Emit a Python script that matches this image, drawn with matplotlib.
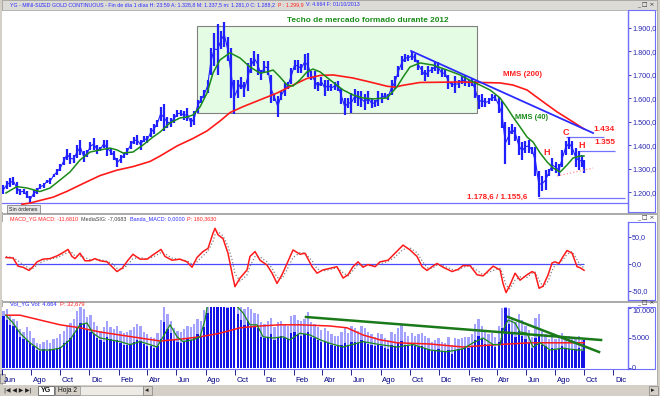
import numpy as np
import pandas as pd
import matplotlib
matplotlib.use("Agg")
import matplotlib.pyplot as plt
from matplotlib.patches import Rectangle
import matplotlib.transforms as mtransforms

plt.rcParams['font.family'] = ['Liberation Sans', 'DejaVu Sans']

# ---- datos: oro mini (YG), semanas desde jun-2010 hasta 01/10/2013 ----
inicio = pd.Timestamp('2010-06-01')
fechas = list(pd.date_range('2010-06-04', '2013-09-27', freq='W-FRI')) + [pd.Timestamp('2013-10-01')]

minimos = [
    # 2010
    1195, 1215, 1225, 1230, 1195, 1190, 1195, 1175, 1157, 1180, 1195, 1215, 1220, 1240, 1238, 1265,
    1275, 1290, 1315, 1340, 1320, 1325, 1345, 1360, 1330, 1350, 1380, 1380, 1365, 1375, 1390,
    # 2011
    1355, 1360, 1340, 1310, 1325, 1345, 1360, 1385, 1405, 1400, 1380, 1415, 1410, 1435, 1450, 1480, 1505,
    1460, 1475, 1480, 1495, 1520, 1525, 1510, 1505, 1478, 1485, 1540, 1580, 1600, 1625, 1700, 1740, 1700,
    1810, 1820, 1760, 1600, 1535, 1600, 1640, 1605, 1630, 1710, 1740, 1700, 1680, 1710, 1700, 1580, 1590, 1523,
    # 2012
    1595, 1610, 1640, 1660, 1720, 1710, 1710, 1720, 1690, 1680, 1640, 1630, 1655, 1610, 1630, 1630, 1635,
    1630, 1575, 1530, 1560, 1540, 1580, 1570, 1565, 1550, 1575, 1560, 1565, 1570, 1580, 1600, 1595, 1615, 1640,
    1690, 1720, 1755, 1760, 1765, 1755, 1720, 1700, 1675, 1690, 1710, 1715, 1705, 1690, 1690, 1640, 1650,
    # 2013
    1625, 1645, 1660, 1655, 1650, 1655, 1600, 1555, 1565, 1565, 1575, 1590, 1590, 1540, 1475, 1321, 1400,
    1450, 1420, 1360, 1340, 1370, 1370, 1365, 1270, 1180, 1205, 1210, 1270, 1290, 1285, 1270, 1310, 1360, 1385,
    1360, 1310, 1295, 1310, 1281]
maximos = [
    # 2010
    1230, 1250, 1262, 1265, 1245, 1215, 1215, 1205, 1185, 1210, 1218, 1235, 1240, 1255, 1260, 1280,
    1300, 1320, 1350, 1385, 1370, 1360, 1400, 1424, 1375, 1380, 1415, 1431, 1400, 1395, 1425,
    # 2011
    1422, 1390, 1375, 1345, 1360, 1370, 1390, 1420, 1438, 1445, 1425, 1440, 1440, 1475, 1490, 1510, 1565,
    1577, 1520, 1515, 1535, 1550, 1550, 1545, 1560, 1515, 1545, 1595, 1610, 1635, 1680, 1815, 1880, 1915,
    1885, 1925, 1860, 1815, 1680, 1680, 1690, 1670, 1750, 1770, 1800, 1790, 1720, 1760, 1760, 1700, 1620, 1610,
    # 2012
    1630, 1665, 1670, 1730, 1765, 1765, 1745, 1790, 1792, 1715, 1715, 1670, 1690, 1680, 1680, 1660, 1670,
    1675, 1645, 1600, 1600, 1625, 1640, 1630, 1630, 1620, 1630, 1600, 1595, 1630, 1625, 1625, 1620, 1680, 1695,
    1740, 1780, 1790, 1785, 1798, 1790, 1765, 1740, 1720, 1740, 1735, 1755, 1755, 1725, 1725, 1700, 1670,
    # 2013
    1695, 1680, 1695, 1695, 1680, 1685, 1675, 1615, 1620, 1600, 1600, 1620, 1615, 1605, 1590, 1500, 1480,
    1490, 1480, 1440, 1415, 1420, 1425, 1395, 1395, 1290, 1270, 1295, 1300, 1345, 1330, 1320, 1380, 1420, 1434,
    1420, 1390, 1375, 1360, 1338]

vol_semana = [
    8600, 8000, 7200, 7000, 6500, 5200, 4800, 4600, 4200, 3600, 3000, 2800, 3100, 2900, 3200, 3000,
    3300, 3500, 4100, 4500, 5000, 5800, 6800, 7500, 7400, 6500, 6000, 5600, 5000, 4600, 4400,
    5200, 4800, 4500, 4700, 4200, 3900, 3800, 4000, 4300, 4600, 4500, 4000, 3700, 3600, 3400, 3600, 4800,
    7600, 6500, 5800, 4600, 4400, 4200, 4500, 4800, 4600, 5000, 5600, 5400, 6800, 9200, 12500, 12000, 12500,
    10500, 11500, 10000, 12000, 11000, 9000, 8000, 7200, 7800, 7000, 6800, 6600, 5200, 5000, 5200, 5600, 4600, 5000,
    5300, 5000, 4800, 5800, 6000, 5600, 5400, 5600, 6000, 5200, 5000, 4600, 4300, 4400, 4200, 3800, 3700,
    3600, 3900, 4200, 3800, 4300, 4400, 4200, 4600, 4300, 4000, 3800, 3600, 3900, 3700, 3300, 3100, 3800, 3600,
    4200, 4500, 3900, 3600, 3900, 3600, 3500, 3700, 3400, 3200, 2900, 2800, 3100, 2800, 2700, 3000, 2400,
    3000, 3100, 3200, 3300, 3400, 3600, 4600, 5400, 4800, 4000, 3700, 3800, 3500, 4400, 6600, 10000, 7400,
    6000, 5200, 6200, 5400, 4800, 4200, 3400, 5000, 5600, 3800, 3600, 3000, 3400, 3000, 3100, 3600, 3300, 3200,
    3000, 3100, 3300, 2900, 4664]
vol_pico = [
    9500, 9800, 8800, 8200, 7800, 6500, 6000, 6800, 6200, 5000, 4200, 4000, 4400, 4600, 4200, 4800,
    5000, 5600, 6200, 7000, 7500, 8200, 9500, 10500, 9800, 8500, 8800, 7600, 7000, 6200, 6800,
    7800, 6900, 6500, 7000, 6200, 5800, 6000, 6400, 6800, 7400, 7000, 6000, 5600, 5200, 5000, 5800, 8000,
    10500, 9000, 7800, 6600, 6200, 6000, 6500, 7000, 6800, 7400, 8200, 7800, 9600, 12000, 14000, 14000, 14000,
    13000, 14000, 13000, 14000, 14000, 12000, 10500, 9800, 10500, 9800, 9200, 9000, 7600, 7400, 7800, 8400, 6800, 7600,
    7800, 7200, 7000, 8600, 8800, 8000, 7800, 8200, 9400, 7600, 7400, 6800, 6400, 6600, 6200, 5600, 5400,
    5400, 6000, 6800, 5800, 7000, 6600, 6200, 7000, 6600, 6000, 5600, 5200, 5800, 5600, 5000, 4600, 6000, 5600,
    6600, 7200, 6000, 5400, 5800, 5400, 5600, 5800, 5400, 5000, 4400, 4600, 5000, 4400, 4200, 5200, 3800,
    5000, 4800, 5000, 5200, 5200, 5600, 7400, 8200, 7000, 6000, 5600, 5800, 5200, 7000, 10000, 13000, 10000,
    8400, 7600, 9000, 8000, 7000, 6400, 5200, 8400, 9000, 6200, 5600, 4800, 5400, 4800, 5000, 5800, 5200, 5400,
    4800, 5000, 5400, 4600, 4664]

# medias moviles del precio (mes desde jun-2010, valor)
mms40_mes = [0.27, 1.03, 1.72, 2.61, 3.30, 3.99, 4.67, 5.36, 6.05, 6.74, 7.42, 7.90, 8.32, 9.00, 9.69,
             10.38, 10.86, 11.55, 12.23, 12.71, 13.13, 13.61, 14.09, 14.50, 14.98, 15.67, 16.36, 17.04,
             17.73, 18.21, 18.63, 19.11, 19.59, 20.00, 20.48, 20.96, 21.37, 21.86, 22.54, 23.44, 24.12,
             24.81, 25.50, 26.46, 27.15, 27.56, 28.04, 28.73, 29.62, 30.58, 31.48, 32.37, 32.85, 33.54,
             34.23, 34.71, 35.12, 35.60, 36.08, 36.49, 36.98, 37.46, 37.88, 38.36, 38.83, 39.25, 39.73, 40.0]
mms40 = [1198, 1225, 1219, 1204, 1219, 1253, 1287, 1338, 1372, 1381, 1389, 1381, 1368, 1372, 1402,
         1436, 1457, 1496, 1517, 1521, 1530, 1564, 1623, 1708, 1764, 1794, 1772, 1734,
         1708, 1713, 1721, 1691, 1657, 1653, 1679, 1713, 1725, 1713, 1679, 1636, 1615,
         1602, 1598, 1602, 1650, 1691, 1734, 1751, 1742, 1721, 1700, 1670, 1657, 1636,
         1602, 1560, 1521, 1479, 1436, 1415, 1368, 1330, 1304, 1287, 1317, 1347, 1355, 1355]
mms200_mes = [1.37, 1.92, 2.61, 3.51, 4.47, 5.57, 6.74, 7.90, 9.00, 10.17, 10.86, 12.03, 13.13, 14.09,
              15.00, 15.67, 16.56, 17.73, 18.90, 20.00, 20.96, 21.86, 22.75, 24.12, 25.29, 26.46, 27.01,
              27.56, 28.73, 31.48, 34.23, 35.12, 36.08, 37.18, 38.14, 39.04, 40.0]
mms200 = [1150, 1155, 1166, 1180, 1205, 1238, 1272, 1295, 1310, 1332, 1355, 1398, 1430, 1462,
          1505, 1540, 1565, 1594, 1623, 1657, 1685, 1698, 1700, 1687, 1670, 1652, 1648,
          1656, 1668, 1670, 1666, 1657, 1636, 1586, 1543, 1508, 1470]

# MACD y su media (senal)
macd_mes = [0.27, 0.76, 1.10, 1.44, 1.86, 2.13, 2.41, 2.82, 3.30, 3.78,
            4.12, 4.54, 4.81, 5.02, 5.36, 5.70, 6.05, 6.39, 6.74, 7.22,
            7.56, 7.90, 8.25, 8.66, 9.00, 9.48, 9.97, 10.38, 10.93, 11.20,
            11.68, 12.23, 12.71, 13.06, 13.40, 13.81, 14.16, 14.50, 14.64, 14.85,
            15.19, 15.53, 15.81, 16.01, 16.36, 16.84, 17.04, 17.39, 17.73, 18.21,
            18.56, 18.90, 19.24, 19.59, 20.00, 20.48, 20.82, 21.31, 21.65, 22.06,
            22.54, 23.02, 23.44, 23.78, 24.12, 24.47, 24.81, 25.15, 25.64, 25.98,
            26.53, 27.01, 27.56, 28.04, 28.52, 28.87, 29.21, 29.55, 29.90, 30.31,
            30.93, 31.34, 31.68, 32.16, 32.65, 33.06, 33.75, 34.23, 34.43, 34.64,
            34.91, 35.26, 35.60, 36.08, 36.43, 36.63, 36.91, 37.18, 37.53, 37.80,
            38.01, 38.28, 38.56, 38.83, 39.18, 39.52, 39.73, 40.00]
macd = [12, 11, -4, -6, -12, -5, 4, 9, 10, 15,
        20, 27, 14, 10, 20, 6, 6, 10, 6, 4,
        -5, -14, -8, 7, 18, 9, 9, 17, 27, 14,
        7, 9, 4, -6, 12, 23, 29, 57, 66, 54,
        47, 20, -17, -42, -26, -11, 14, 23, 7, -2,
        -17, -36, -20, 1, 26, 18, 20, -5, -17, -11,
        -8, -5, -26, -20, -5, 4, -6, -1, -5, 4,
        7, 20, 35, 26, 14, -5, -12, -5, 1, -6,
        -14, -10, -3, -3, -20, -22, -4, -11, -36, -53,
        -39, -17, -30, -20, -14, -17, -45, -41, -20, 2,
        4, 1, 14, 25, 20, -5, -7, -11.68]
senal = [14, 12, 6, -1, -8, -8, -2, 5, 9, 12,
         16, 22, 21, 15, 15, 12, 8, 8, 8, 5,
         1, -8, -10, -1, 10, 12, 9, 13, 21, 19,
         11, 8, 6, 0, 4, 15, 24, 42, 55, 60,
         52, 33, 8, -18, -32, -20, -4, 14, 13, 4,
         -8, -25, -27, -10, 12, 21, 20, 6, -9, -13,
         -10, -7, -16, -22, -12, -1, -2, -3, -3, 0,
         5, 13, 27, 30, 21, 6, -7, -8, -2, -3,
         -10, -12, -6, -3, -12, -20, -12, -8, -20, -40,
         -46, -30, -24, -25, -17, -15, -30, -42, -32, -12,
         -2, 2, 8, 18, 23, 8, -2, -7.07]

# medias del volumen
vol_verde_mes = [0.27, 0.76, 1.24, 1.92, 2.61, 3.30, 3.99, 4.67, 5.36, 5.84, 6.25, 6.74, 7.42, 8.11, 8.80,
                 9.48, 10.17, 10.65, 11.07, 11.55, 12.03, 12.44, 13.13, 13.61, 13.95, 14.16, 15.0, 15.88,
                 16.56, 17.04, 17.53, 17.94, 18.63, 19.31, 19.79, 20.48, 21.17, 21.86, 22.54, 23.44, 24.81,
                 25.98, 27.15, 28.25, 29.42, 30.58, 31.68, 32.37, 33.06, 33.75, 34.23, 34.43, 34.78, 35.26,
                 35.60, 36.08, 36.49, 36.98, 37.66, 38.56, 39.52, 40.0]
vol_verde = [8800, 7500, 5800, 4200, 3000, 3000, 3300, 4700, 7200, 7500, 5800, 5000, 4700, 4400, 3900,
             4400, 3900, 3500, 5200, 7200, 5200, 4400, 4700, 5200, 8000, 11000, 12500, 11000,
             9200, 7200, 7200, 5200, 5000, 5200, 4700, 5800, 5500, 4700, 4100, 3500, 4400,
             3900, 3500, 3900, 3000, 2700, 3200, 4200, 5000, 3900, 3900, 6300, 8000, 7500,
             6000, 5800, 3500, 4200, 3000, 3300, 3000, 3000]
vol_rojo_mes = [0.27, 1.24, 2.61, 3.99, 5.36, 6.74, 8.11, 9.48, 10.86, 12.23, 13.61, 14.98, 16.36, 17.73,
                19.11, 20.48, 22.54, 23.71, 24.81, 25.98, 27.15, 29.42, 31.68, 34.02, 36.29, 38.56, 40.0]
vol_rojo = [8800, 8800, 8000, 7200, 6700, 6000, 5500, 5000, 4500, 4800, 5200, 5800, 6700, 7000,
            7200, 7200, 7000, 6700, 5500, 4700, 4200, 4000, 3500, 3900, 4200, 4200, 4200]

# lineas dibujadas por el analista
techo_mes = [13.40, 32.65]
techo_precio = [1538, 1908]
bajista_mes = [28.11, 40.62]
bajista = [1802, 1453]
hch_mes = [38.14, 40.62]
hch = [1270, 1304]
niveles = [1434, 1375, 1178.6]
niveles_ini = [38.76, 39.59, 36.84]
niveles_fin = [41.37, 42.13, 42.82]
minimo_2010 = 1155.6
vol_tend1_mes = [20.89, 41.17]
vol_tend1 = [8500, 4667]
vol_tend2_mes = [34.78, 41.03]
vol_tend2 = [8500, 2667]

meses = np.array([(f - inicio).days for f in fechas]) / 30.44
minimos = np.array(minimos)
maximos = np.array(maximos)

# ---- figura ----
W, H = 660, 396
fig = plt.figure(figsize=(W / 100, H / 100), dpi=100)
fig.patch.set_facecolor('#d4d0c8')
rend = fig.canvas.get_renderer()


def caja(x0, y0, x1, y1, z=-10, **kw):
    fig.add_artist(Rectangle((x0 / W, 1 - y1 / H), (x1 - x0) / W, (y1 - y0) / H,
                             transform=fig.transFigure, zorder=z, **kw))


def ajustar(t, ancho):
    w = t.get_window_extent(renderer=rend).width
    if w > 0:
        t.set_fontsize(t.get_fontsize() * ancho / w)
    return t


def texto(x, y, s, ancho=None, **kw):
    t = fig.text(x / W, 1 - y / H, s, va='center', ha='left', **kw)
    if ancho:
        ajustar(t, ancho)
    return t


def linea_titulo(x, y, partes, ancho_primera):
    # primera parte ajustada al ancho medido, el resto seguido con el mismo tamaño
    t = texto(x, y, partes[0][0], ancho=ancho_primera, color=partes[0][1])
    fs = t.get_fontsize()
    for s, c in partes[1:]:
        x += t.get_window_extent(renderer=rend).width + 3
        t = texto(x, y, s, fontsize=fs, color=c)
    return fs


def es(v, dec):
    s = f"{v:,.{dec}f}"
    return s.replace(',', 'X').replace('.', ',').replace('X', '.')


# marcos de las ventanas
caja(2, 0, 657, 213, fc='white', ec='#a0a0a0', lw=0.6)
caja(2, 0, 657, 10, fc='#dddbd6', ec='#a0a0a0', lw=0.5)
caja(2, 214, 657, 301, fc='white', ec='#a0a0a0', lw=0.6)
caja(2, 302, 657, 385, fc='white', ec='#a0a0a0', lw=0.6)
for y0, y1 in [(10, 212), (222, 300), (307, 369)]:
    caja(628, y0, 655, y1, z=-5, fc='white', ec='#7070ff', lw=0.8)

azul_txt = '#2a2aff'
rojo_txt = '#ff2020'
linea_titulo(10, 5, [('YG - MINI-SIZED GOLD CONTINUOUS - Fin de día 1 días H: 23:59 A: 1.328,8 '
                      'M: 1.337,5 m: 1.281,0 C: 1.288,2', azul_txt),
                     ('P : 1.299,9', rojo_txt),
                     ('V: 4.664 F: 01/10/2013', azul_txt)], 264)
linea_titulo(10, 219, [('MACD_YG MACD: -11,6810', rojo_txt),
                       ('MediaSIG: -7,0683', '#404040'),
                       ('Banda_MACD: 0,0000', azul_txt),
                       ('P: 180,3630', rojo_txt)], 67)
linea_titulo(10, 304, [('Vol_YG Vol: 4.664', azul_txt), ('P: 32,679', rojo_txt)], 47)
for yb in [5, 218, 303.5]:
    texto(637, yb, '_ □ ×', fontsize=4.3, family='DejaVu Sans', color='#303030')

ancho_ax = 626 / W
ax1 = fig.add_axes([2 / W, 1 - 212 / H, ancho_ax, 201 / H])
ax2 = fig.add_axes([2 / W, 1 - 300 / H, ancho_ax, 78 / H], sharex=ax1)
ax3 = fig.add_axes([2 / W, 1 - 369 / H, ancho_ax, 62 / H], sharex=ax1)

for ax in (ax1, ax2, ax3):
    ax.set_facecolor('white')
    for lado in ['top', 'left', 'bottom']:
        ax.spines[lado].set_visible(False)
    ax.spines['right'].set_color('#7070ff')
    ax.spines['right'].set_linewidth(1.0)
    ax.yaxis.tick_right()
    ax.tick_params(axis='y', labelsize=5.2, colors='#2626b0', length=2, width=0.6, pad=1)
    ax.tick_params(axis='x', bottom=False, labelbottom=False)

ax1.set_xlim(0, 43.02)
ax1.set_ylim(1117, 1972)
ax2.set_ylim(-66.7, 77.8)
ax3.set_ylim(-167, 10167)

# ---- panel de precio ----
ax1.add_patch(Rectangle((techo_mes[0], techo_precio[0]), techo_mes[1] - techo_mes[0],
                        techo_precio[1] - techo_precio[0], fc='#e4fbe4', ec='#808080', lw=0.8, zorder=0.5))
ax1.axhline(minimo_2010, color='#7272ff', lw=0.9, zorder=1)
ax1.hlines(niveles, niveles_ini, niveles_fin, color='#7272ff', lw=0.9, zorder=1)
ax1.vlines(meses, minimos, maximos, color='#1f1fff', lw=1.6, zorder=2)
ax1.plot(meses, (minimos + maximos) / 2, color='#1f1fff', lw=0.8, zorder=2)
ax1.plot(mms200_mes, mms200, color='#ff1a1a', lw=1.2, zorder=3)
ax1.plot(mms40_mes, mms40, color='#1a8a1a', lw=1.1, zorder=3)
ax1.plot(bajista_mes, bajista, color='#2b2bff', lw=1.3, zorder=3)
ax1.plot(hch_mes, hch, color='#ff9090', lw=0.9, ls=':', zorder=3)
ax1.set_yticks(range(1200, 2000, 100))
ax1.set_yticklabels([es(v, 1) for v in range(1200, 2000, 100)])

verde_txt = '#1a8c1a'
ajustar(ax1.text(19.59, 1930, 'Techo de mercado formado durante 2012', color=verde_txt,
                 weight='bold', ha='left', va='center'), 160)
ajustar(ax1.text(34.43, 1700, 'MMS (200)', color=rojo_txt, weight='bold', ha='left', va='center'), 39)
ajustar(ax1.text(35.26, 1521, 'MMS (40)', color=verde_txt, weight='bold', ha='left', va='center'), 33)
for xm, yp, s in [(38.56, 1457, 'C'), (37.18, 1372, 'H'), (39.59, 1398, 'H')]:
    ax1.text(xm, yp, s, color=rojo_txt, weight='bold', ha='left', va='center', fontsize=6.5)
ajustar(ax1.text(40.62, 1470, '1.434', color=rojo_txt, weight='bold', ha='left', va='center'), 21)
ajustar(ax1.text(40.69, 1411, '1.355', color=rojo_txt, weight='bold', ha='left', va='center'), 21)
ajustar(ax1.text(31.96, 1181, '1.178,6 / 1.155,6', color=rojo_txt, weight='bold',
                 ha='left', va='center'), 60)

caja(7, 205, 40, 213, z=10, fc='#e6e6e6', ec='#707070', lw=0.5)
texto(9, 209.3, 'Sin órdenes', ancho=28, color='#202020', zorder=11)

# ---- panel MACD ----
ax2.hlines(0, macd_mes[0], macd_mes[-1], color='#4a4aff', lw=0.9)
ax2.plot(macd_mes, senal, color='#808080', lw=0.9, ls=':')
ax2.plot(macd_mes, macd, color='#ff1a1a', lw=1.1)
ax2.set_yticks([-50, 0, 50])
ax2.set_yticklabels([es(v, 1) for v in [-50, 0, 50]])

# ---- panel volumen ----
ax3.bar(meses, vol_pico, width=0.16, color='#a3a3ff', lw=0)
ax3.bar(meses, vol_semana, width=0.16, color='#1414e6', lw=0)
ax3.plot(vol_rojo_mes, vol_rojo, color='#ff1a1a', lw=1.1)
ax3.plot(vol_verde_mes, vol_verde, color='#1a8a1a', lw=0.9)
ax3.plot(vol_tend1_mes, vol_tend1, color='#1a7a1a', lw=1.8)
ax3.plot(vol_tend2_mes, vol_tend2, color='#1a7a1a', lw=1.8)
ax3.set_yticks([0, 5000, 10000])
ax3.set_yticklabels([es(v, 0) for v in [0, 5000, 10000]])
ax3.get_yticklabels()[-1].set_verticalalignment('top')
ax3.spines['bottom'].set_visible(True)
ax3.spines['bottom'].set_color('#7070ff')

nombres = {6: 'Jun', 8: 'Ago', 10: 'Oct', 12: 'Dic', 2: 'Feb', 4: 'Abr'}
marcas = pd.date_range('2010-06-01', '2013-12-01', freq='2MS')
ax3.set_xticks([(d - inicio).days / 30.44 for d in marcas])
ax3.set_xticklabels([nombres[d.month] for d in marcas])
ax3.tick_params(axis='x', bottom=True, labelbottom=True, labelsize=5.5, colors='#000080',
                length=4, width=0.6, direction='out', pad=2)
desplaza = mtransforms.ScaledTranslation(1.5 / 100, 0, fig.dpi_scale_trans)
for lab in ax3.get_xticklabels():
    lab.set_horizontalalignment('left')
    lab.set_transform(lab.get_transform() + desplaza)

# ---- pestañas inferiores ----
caja(0, 385, 660, 396, z=-4, fc='#d4d0c8', ec='none')
caja(0, 374, 5, 383, z=-4, fc='#d4d0c8', ec='#808080', lw=0.5)
texto(4, 390.5, '|◀ ◀ ▶ ▶|', fontsize=4.2, family='DejaVu Sans', color='#202020')
caja(38, 386, 54, 395, z=-3, fc='white', ec='#606060', lw=0.6)
texto(41, 390.5, 'YG', fontsize=5, weight='bold', color='#101010')
caja(55, 386, 80, 395, z=-3, fc='#d4d0c8', ec='#808080', lw=0.6)
texto(58, 390.5, 'Hoja 2', fontsize=4.8, color='#101010')
caja(80, 386, 143, 395, z=-3, fc='#ecebe6', ec='#a0a0a0', lw=0.5)
caja(143, 386, 152, 395, z=-3, fc='#d4d0c8', ec='#808080', lw=0.5)
texto(145, 390.5, '◂', fontsize=5, family='DejaVu Sans', color='#202020')
caja(649, 386, 658, 395, z=-3, fc='#d4d0c8', ec='#808080', lw=0.5)
texto(651, 390.5, '▸', fontsize=5, family='DejaVu Sans', color='#202020')

fig.savefig('out.png', dpi=100, facecolor=fig.get_facecolor())
